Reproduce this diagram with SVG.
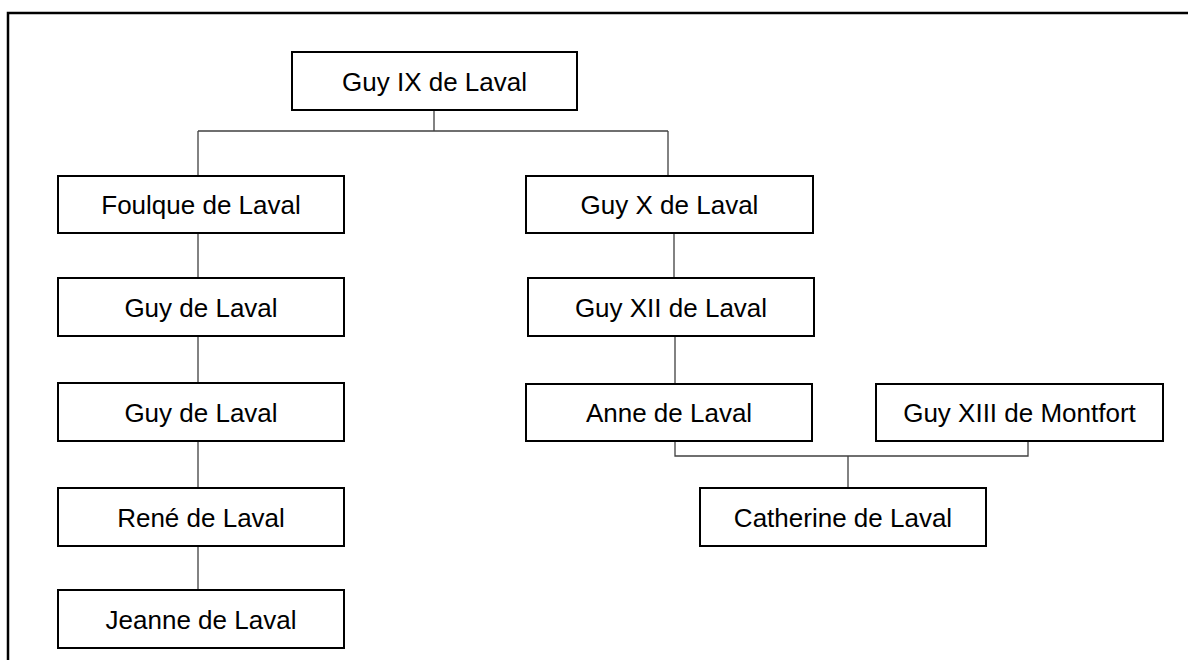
<svg xmlns="http://www.w3.org/2000/svg" width="1188" height="660" viewBox="0 0 1188 660">
<style>
.box{fill:#fff;stroke:#000;stroke-width:2}
.lbl{font-family:"Liberation Sans",Arial,sans-serif;font-size:26px;fill:#000;text-anchor:middle}
.con{fill:none;stroke:#404040;stroke-width:1.3}
</style>
<rect width="1188" height="660" fill="#fff"/>
<path d="M8,670 V13 H1200" fill="none" stroke="#000" stroke-width="2.5"/>
<g id="connectors">
<path class="con" d="M434,110 V131 M198,131 H668 M198,131 V176 M668,131 V176"/>
<path class="con" d="M198,233 V278 M198,336 V383 M198,442 V488 M198,547 V590"/>
<path class="con" d="M674,233 V278 M675,336 V383"/>
<path class="con" d="M675,441 V456 H1028 V441 M848,456 V488"/>
</g>
<g id="guy9"><rect class="box" x="292" y="52" width="285" height="58"/><text class="lbl" x="434.5" y="91">Guy IX de Laval</text></g>
<g id="foulque"><rect class="box" x="58" y="176" width="286" height="57"/><text class="lbl" x="201" y="214">Foulque de Laval</text></g>
<g id="guy10"><rect class="box" x="526" y="176" width="287" height="57"/><text class="lbl" x="669.5" y="214">Guy X de Laval</text></g>
<g id="guy1"><rect class="box" x="58" y="278" width="286" height="58"/><text class="lbl" x="201" y="317">Guy de Laval</text></g>
<g id="guy12"><rect class="box" x="528" y="278" width="286" height="58"/><text class="lbl" x="671" y="317">Guy XII de Laval</text></g>
<g id="guy2"><rect class="box" x="58" y="383" width="286" height="58"/><text class="lbl" x="201" y="422">Guy de Laval</text></g>
<g id="anne"><rect class="box" x="526" y="384" width="286" height="57"/><text class="lbl" x="669" y="422">Anne de Laval</text></g>
<g id="guy13"><rect class="box" x="876" y="384" width="287" height="57"/><text class="lbl" x="1019.5" y="422">Guy XIII de Montfort</text></g>
<g id="rene"><rect class="box" x="58" y="488" width="286" height="58"/><text class="lbl" x="201" y="527">René de Laval</text></g>
<g id="catherine"><rect class="box" x="700" y="488" width="286" height="58"/><text class="lbl" x="843" y="527">Catherine de Laval</text></g>
<g id="jeanne"><rect class="box" x="58" y="590" width="286" height="58"/><text class="lbl" x="201" y="629">Jeanne de Laval</text></g>
</svg>
